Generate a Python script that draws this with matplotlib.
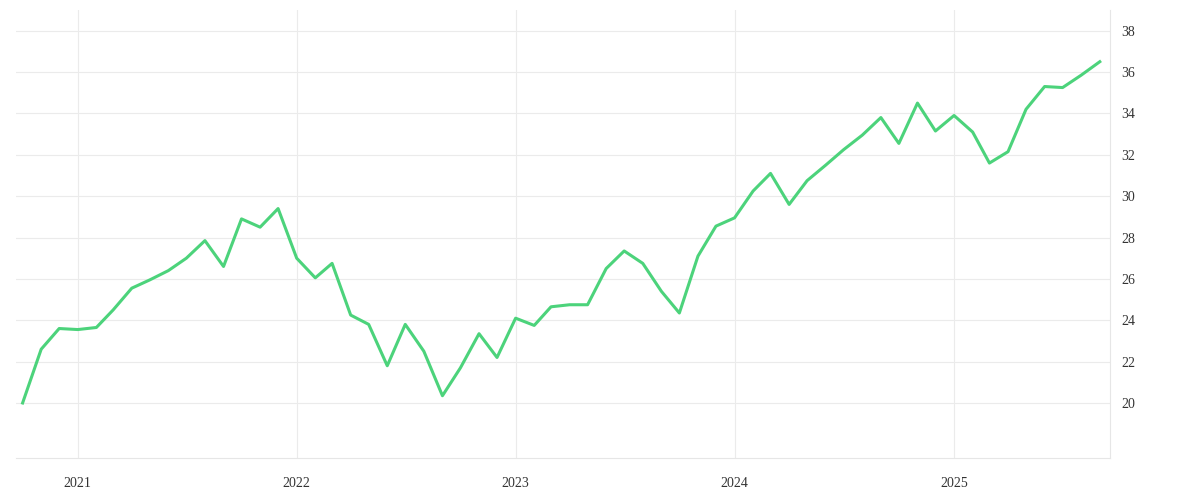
import numpy as np
import pandas as pd
import matplotlib
matplotlib.use("Agg")
import matplotlib.pyplot as plt

# monthly series, Oct 2020 .. Sep 2025
dates = pd.date_range("2020-10-01", periods=60, freq="MS")
values = [
    20.0, 22.6, 23.6, 23.55, 23.65, 24.5, 25.55, 25.95, 26.4, 27.0,
    27.85, 26.6, 28.9, 28.5, 29.4, 27.0, 26.05, 26.75, 24.25, 23.8,
    21.8, 23.8, 22.5, 20.35, 21.7, 23.35, 22.2, 24.1, 23.75, 24.65,
    24.75, 24.75, 26.5, 27.35, 26.75, 25.4, 24.35, 27.1, 28.55, 28.95,
    30.25, 31.1, 29.6, 30.75, 31.5, 32.25, 32.95, 33.8, 32.55, 34.5,
    33.15, 33.9, 33.1, 31.6, 32.15, 34.2, 35.3, 35.25, 35.85, 36.5,
]
year_ticks = pd.to_datetime(["2021-01-01", "2022-01-01", "2023-01-01", "2024-01-01", "2025-01-01"])
year_labels = ["2021", "2022", "2023", "2024", "2025"]
y_ticks = [20, 22, 24, 26, 28, 30, 32, 34, 36, 38]

plt.rcParams["font.family"] = ["Liberation Serif", "DejaVu Serif"]

fig = plt.figure(figsize=(12, 5), dpi=100)
ax = fig.add_axes([16 / 1200, 1 - 458 / 500, 1094 / 1200, 448 / 500])

ax.plot(dates, values, color="#4cd37b", linewidth=2.2)

ax.set_xlim(pd.Timestamp("2020-09-20"), pd.Timestamp("2025-09-18"))
ax.set_ylim(17.34, 39.0)
ax.set_xticks(year_ticks)
ax.set_xticklabels(year_labels)
ax.set_yticks(y_ticks)
ax.yaxis.tick_right()

ax.grid(True, color="#ebebeb", linewidth=0.8)
for s in ["top", "left"]:
    ax.spines[s].set_visible(False)
for s in ["bottom", "right"]:
    ax.spines[s].set_color("#e6e6e6")
ax.tick_params(length=0, labelsize=10, colors="#333333", pad=14)
ax.tick_params(axis="y", pad=8)

fig.savefig("out.png", dpi=100)
